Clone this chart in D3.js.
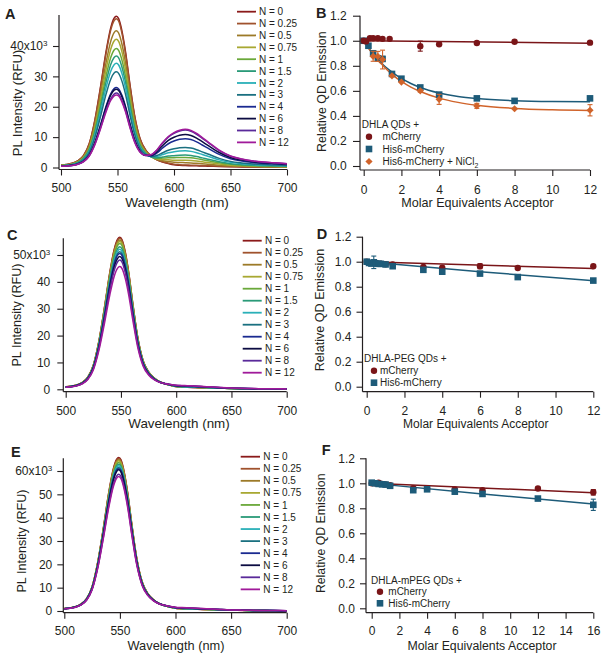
<!DOCTYPE html>
<html><head><meta charset="utf-8">
<script src="https://cdn.jsdelivr.net/npm/d3@7"></script>
<style>
body{margin:0;background:#fff;}
svg{display:block;}
</style></head><body>
<svg id="chart" width="604" height="656"></svg>
<script>
// ---------- DATA ----------
const seriesLabels = ["N = 0","N = 0.25","N = 0.5","N = 0.75","N = 1","N = 1.5","N = 2","N = 3","N = 4","N = 6","N = 8","N = 12"];
const seriesColors = ["#8b1a1a","#a0522d","#9c7a28","#a8a832","#6aa83a","#2a9a78","#2ab0b8","#1a7080","#1a2a90","#0c0c42","#5a2a9a","#a01a9a"];
const wavelengths = [500,505,510,515,520,525,530,535,540,544,547,549,551,554,557,561,565,570,575,580,585,590,595,600,605,610,615,620,625,630,640,650,660,670,680,690,700];
const qdShape = [0.016,0.02,0.028,0.045,0.08,0.158,0.315,0.534,0.772,0.923,0.987,1.0,0.984,0.90,0.77,0.55,0.35,0.19,0.115,0.075,0.05,0.036,0.026,0.018,0.015,0.013,0.012,0.011,0.01,0.009,0.007,0.005,0.004,0.003,0.0025,0.002,0.0015];
const mcShape = [0,0,0,0,0,0,0,0,0,0,0,0,0,0,0,0,0.01,0.04,0.1,0.2,0.38,0.6,0.78,0.9,0.97,1.0,0.97,0.89,0.78,0.67,0.45,0.3,0.22,0.17,0.14,0.12,0.1];
// peak amplitudes (RFU)
const qdAmpA = [49800,49000,45000,42200,39200,36700,34300,31500,26300,25800,24500,23900];
const mcAmpA = [0,200,1000,1850,2800,3600,5050,6200,9150,10550,12000,12300];
const qdAmpC = [56600,56200,55600,55000,54300,53100,52100,51200,50600,49400,48100,45700];
const mcAmpC = [0,30,60,100,130,200,260,330,450,550,650,750];
const qdAmpE = [65800,65400,64800,64400,63600,62900,62200,61500,61000,60500,58600,57600];
const mcAmpE = [0,30,60,90,120,180,240,300,380,460,540,620];
const spectraXTicks = [500,550,600,650,700];
const yTicksA = [0,10000,20000,30000,40000];
const yTicksC = [0,10000,20000,30000,40000,50000];
const yTicksE = [0,10000,20000,30000,40000,50000,60000];

// Panel B (DHLA QDs)
const bMcX = [0,0.125,0.33,0.5,0.75,1,1.375,3,4,6,8,12];
const bMcY = [1.0,0.995,1.02,1.02,1.02,1.015,1.015,0.957,0.972,0.982,0.992,0.985];
const bMcErr = [0.01,0,0,0,0,0,0,0.04,0,0,0,0];
const bHisX = [0,0.25,0.5,0.75,1,1.5,2,3,4,6,8,12];
const bHisY = [1.0,0.96,0.9,0.86,0.855,0.735,0.697,0.627,0.57,0.54,0.52,0.54];
const bHisErr = [0,0,0.01,0.02,0.02,0,0,0,0.01,0,0,0.015];
const bNiX = [0.5,0.75,1,1.5,2,3,4,6,8,12];
const bNiY = [0.876,0.875,0.85,0.72,0.67,0.60,0.532,0.48,0.457,0.445];
const bNiErr = [0.04,0.04,0.075,0,0,0.01,0.04,0.02,0,0.045];
const bFitX = [0,0.25,0.5,0.75,1,1.5,2,2.5,3,4,5,6,8,10,12];
const bFitHis = [1.0,0.944,0.896,0.852,0.813,0.75,0.699,0.659,0.627,0.583,0.555,0.538,0.521,0.514,0.512];
const bFitNi = [1.0,0.942,0.891,0.845,0.805,0.732,0.675,0.63,0.595,0.542,0.508,0.485,0.46,0.449,0.444];
const bFitMcX = [0,12];
const bFitMc = [1.0,0.98];

// Panel D (DHLA-PEG QDs)
const dMcX = [0,0.25,0.5,0.75,1,1.375,3,4,6,8,12];
const dMcY = [1.0,0.99,0.99,0.985,0.98,0.978,0.959,0.953,0.964,0.95,0.964];
const dMcErr = [0,0,0,0,0,0,0,0,0.02,0,0];
const dHisX = [0,0.125,0.25,0.375,0.5,0.625,0.75,1,1.375,3,4,6,8,12];
const dHisY = [1.0,0.99,0.985,0.995,0.985,0.983,0.983,0.978,0.964,0.935,0.92,0.905,0.877,0.849];
const dHisErr = [0,0,0,0.05,0,0,0,0,0,0.015,0.012,0,0,0];
const dFitMcX = [0,12];
const dFitMc = [1.0,0.945];
const dFitHisX = [0,6,12];
const dFitHis = [1.0,0.92,0.848];

// Panel F (DHLA-mPEG QDs)
const fMcX = [0,0.25,0.5,0.75,1,1.33,3,4,6,8,12,16];
const fMcY = [1.0,1.0,1.005,0.995,0.99,0.985,0.96,0.955,0.95,0.945,0.958,0.928];
const fMcErr = [0.01,0,0.01,0,0,0,0,0,0,0.01,0.01,0.022];
const fHisX = [0,0.25,0.5,0.75,1,1.33,3,4,6,8,12,16];
const fHisY = [1.005,1.0,0.995,0.992,0.99,0.98,0.945,0.952,0.933,0.915,0.878,0.828];
const fHisErr = [0,0,0,0,0,0,0.012,0,0,0,0,0.045];
const fFitMcX = [0,16];
const fFitMc = [1.0,0.925];
const fFitHisX = [0,8,16];
const fFitHis = [1.0,0.915,0.835];

const xTicks12 = [0,2,4,6,8,10,12];
const xTicks16 = [0,2,4,6,8,10,12,14,16];
const relTicks = [0,0.2,0.4,0.6,0.8,1.0,1.2];

// ---------- STYLE ----------
const FONT = '"Liberation Sans", Arial, Helvetica, sans-serif';
const INK = "#231f20";
const mcColor = "#7a1518", hisColor = "#1d5b79", niColor = "#d0632a";
const svg = d3.select("#chart");

function panelLabel(t, x, y) {
  svg.append("text").attr("x", x).attr("y", y).attr("font-family", FONT)
    .attr("font-weight", "bold").attr("font-size", 14.5).attr("fill", INK).text(t);
}
function styleAxis(sel, fs) {
  sel.attr("font-family", FONT).attr("font-size", fs).attr("color", INK);
  sel.select(".domain").remove();
  sel.selectAll(".tick line").attr("stroke-width", 1.1);
  sel.selectAll(".tick text").attr("fill", INK);
}
function axisLines(L, xEnd) {
  svg.append("line").attr("x1", L.axisX).attr("x2", L.axisX).attr("y1", L.yTop).attr("y2", L.axisY)
    .attr("stroke", INK).attr("stroke-width", 1.2);
  svg.append("line").attr("x1", L.axisX).attr("x2", xEnd).attr("y1", L.axisY).attr("y2", L.axisY)
    .attr("stroke", INK).attr("stroke-width", 1.2);
}
function titles(L, xt, yt) {
  svg.append("text").attr("x", L.titleX).attr("y", L.titleY).attr("text-anchor", "middle")
    .attr("font-family", FONT).attr("font-size", L.titleSize).attr("fill", INK).text(xt);
  svg.append("text").attr("transform", `translate(${L.yTitleX},${L.yTitleY}) rotate(-90)`)
    .attr("text-anchor", "middle").attr("font-family", FONT).attr("font-size", L.yTitleSize)
    .attr("fill", INK).text(yt);
}

function drawSpectra(L, qdAmp, mcAmp, yTicks) {
  const x = d3.scaleLinear().domain([500, 700]).range([L.x0, L.x1]);
  const y = d3.scaleLinear().domain([0, L.refVal]).range([L.y0, L.yRef]);
  const line = d3.line().x(d => x(d[0])).y(d => y(d[1])).curve(d3.curveMonotoneX);
  const g = svg.append("g");
  qdAmp.forEach((a, i) => {
    const pts = wavelengths.map((w, j) => [w, a * qdShape[j] + mcAmp[i] * mcShape[j]]);
    g.append("path").attr("d", line(pts)).attr("fill", "none")
      .attr("stroke", seriesColors[i]).attr("stroke-width", 1.5);
  });
  axisLines(L, L.x1);
  const top = yTicks[yTicks.length - 1];
  const ya = svg.append("g").attr("transform", `translate(${L.axisX},0)`)
    .call(d3.axisLeft(y).tickValues(yTicks).tickSize(6).tickSizeOuter(0).tickPadding(L.gap - 6)
      .tickFormat(d => d / 1000));
  styleAxis(ya, 12);
  ya.selectAll(".tick text").filter(d => d === top).each(function (d) {
    const t = d3.select(this); t.text(null);
    t.append("tspan").text((d / 1000) + "x10");
    t.append("tspan").attr("dy", "-0.5em").attr("font-size", 8).text("3");
  });
  const xa = svg.append("g").attr("transform", `translate(0,${L.axisY})`)
    .call(d3.axisBottom(x).tickValues(spectraXTicks).tickSize(6).tickSizeOuter(0).tickPadding(L.xPad));
  styleAxis(xa, 12);
  titles(L, "Wavelength (nm)", "PL Intensity (RFU)");
  panelLabel(L.label, L.labelX, L.labelY);
  // legend
  seriesLabels.forEach((s, i) => {
    const cy = L.legY0 + i * L.legDY;
    svg.append("line").attr("x1", L.legX1).attr("x2", L.legX2).attr("y1", cy).attr("y2", cy)
      .attr("stroke", seriesColors[i]).attr("stroke-width", 1.8);
    svg.append("text").attr("x", L.legTX).attr("y", cy + 3.6).attr("font-family", FONT)
      .attr("font-size", 10).attr("fill", INK).text(s);
  });
}

function marker(g, shape, cx, cy, color) {
  if (shape === "circle") {
    g.append("circle").attr("cx", cx).attr("cy", cy).attr("r", 3.2).attr("fill", color);
  } else if (shape === "square") {
    g.append("rect").attr("x", cx - 3.3).attr("y", cy - 3.3).attr("width", 6.6).attr("height", 6.6).attr("fill", color);
  } else {
    g.append("path").attr("d", d3.symbol(d3.symbolSquare, 26)())
      .attr("transform", `translate(${cx},${cy}) rotate(45)`).attr("fill", color);
  }
}

function drawScatter(L, series, fits, header, xTicks) {
  const x = d3.scaleLinear().domain([0, xTicks[xTicks.length - 1]]).range([L.x0, L.x1]);
  const y = d3.scaleLinear().domain([0, 1.2]).range([L.y0, L.y12]);
  const g = svg.append("g");
  const line = d3.line().x(d => x(d[0])).y(d => y(d[1])).curve(d3.curveMonotoneX);
  fits.forEach(f => {
    g.append("path").attr("d", line(f.x.map((v, i) => [v, f.y[i]]))).attr("fill", "none")
      .attr("stroke", f.color).attr("stroke-width", 1.5);
  });
  series.forEach(s => {
    s.x.forEach((v, i) => {
      const cx = x(v), cy = y(s.y[i]);
      if (s.err[i] > 0) {
        const y1 = y(s.y[i] + s.err[i]), y2 = y(s.y[i] - s.err[i]);
        g.append("line").attr("x1", cx).attr("x2", cx).attr("y1", y1).attr("y2", y2).attr("stroke", s.color).attr("stroke-width", 1.1);
        [y1, y2].forEach(yy => g.append("line").attr("x1", cx - 2.5).attr("x2", cx + 2.5).attr("y1", yy).attr("y2", yy).attr("stroke", s.color).attr("stroke-width", 1.1));
      }
      marker(g, s.shape, cx, cy, s.color);
    });
  });
  axisLines(L, L.x1);
  const ya = svg.append("g").attr("transform", `translate(${L.axisX},0)`)
    .call(d3.axisLeft(y).tickValues(relTicks).tickSize(L.tickLen).tickSizeOuter(0)
      .tickPadding(L.gap - L.tickLen).tickFormat(d3.format(".1f")));
  styleAxis(ya, 12);
  const xa = svg.append("g").attr("transform", `translate(0,${L.axisY})`)
    .call(d3.axisBottom(x).tickValues(xTicks).tickSize(6).tickSizeOuter(0).tickPadding(L.xPad));
  styleAxis(xa, 12);
  titles(L, "Molar Equivalents Acceptor", "Relative QD Emission");
  panelLabel(L.label, L.labelX, L.labelY);
  // legend
  svg.append("text").attr("x", L.hx).attr("y", L.hy).attr("font-family", FONT).attr("font-size", 10)
    .attr("fill", INK).text(header);
  series.slice().sort((a, b) => a.order - b.order).forEach((s, i) => {
    const cy = L.rows[i];
    marker(svg, s.shape, L.mx, cy, s.color);
    const t = svg.append("text").attr("x", L.tx).attr("y", cy + 3.6).attr("font-family", FONT)
      .attr("font-size", 10).attr("fill", INK).text(s.name);
    if (s.sub) t.append("tspan").attr("dy", 3).attr("font-size", 7).text(s.sub);
  });
}

// ---------- LAYOUT ----------
const layoutA = {label:"A", labelX:5, labelY:18.5, x0:61, x1:287, axisX:59, axisY:169.5, y0:167.5, yRef:46, refVal:40000,
  yTop:15, gap:11.5, xPad:7.8, titleX:177, titleY:207.3, titleSize:13.7, yTitleX:21.5, yTitleY:103, yTitleSize:13,
  legX1:237, legX2:256, legTX:259, legY0:11.7, legDY:11.88};
const layoutC = {label:"C", labelX:7, labelY:240, x0:65.7, x1:286.7, axisX:63.3, axisY:391.7, y0:389.3, yRef:255, refVal:50000,
  yTop:238.3, gap:13, xPad:8.5, titleX:179, titleY:428.3, titleSize:13.4, yTitleX:21, yTitleY:315, yTitleSize:12.6,
  legX1:242.7, legX2:261.7, legTX:265, legY0:240.7, legDY:12};
const layoutE = {label:"E", labelX:11, labelY:456.5, x0:64.3, x1:286.7, axisX:63.3, axisY:612.7, y0:611, yRef:471, refVal:60000,
  yTop:458.3, gap:11, xPad:7.8, titleX:176, titleY:649.5, titleSize:12.8, yTitleX:26, yTitleY:541, yTitleSize:12.6,
  legX1:240.7, legX2:260, legTX:263.3, legY0:456.7, legDY:12.06};
const layoutB = {label:"B", labelX:316, labelY:18.3, x0:363.7, x1:590, axisX:360, axisY:170, y0:166, y12:15.7, yTop:15.7,
  tickLen:7, gap:13.3, xPad:9, titleX:477.5, titleY:206.8, titleSize:12.6, yTitleX:326, yTitleY:91.7, yTitleSize:12.4,
  hx:361.7, hy:128.3, mx:369, tx:382.5, rows:[136.7,149,161.5]};
const layoutD = {label:"D", labelX:316.7, labelY:239.3, x0:366.7, x1:593.3, axisX:362.5, axisY:391.7, y0:386.7, y12:236.7, yTop:236.7,
  tickLen:6, gap:11, xPad:8.8, titleX:475.8, titleY:428.3, titleSize:12, yTitleX:324.3, yTitleY:310, yTitleSize:12.6,
  hx:364, hy:361.7, mx:374, tx:380, rows:[370.7,382.7]};
const layoutF = {label:"F", labelX:321.7, labelY:455, x0:371.7, x1:593.3, axisX:366, axisY:612.7, y0:608.3, y12:458.3, yTop:458.3,
  tickLen:6, gap:11, xPad:7.6, titleX:482, titleY:649.8, titleSize:12.3, yTitleX:325.3, yTitleY:533.3, yTitleSize:12.3,
  hx:371, hy:583.5, mx:380, tx:388.3, rows:[591.7,603.3]};

// ---------- DRAW ----------
drawSpectra(layoutA, qdAmpA, mcAmpA, yTicksA);
drawSpectra(layoutC, qdAmpC, mcAmpC, yTicksC);
drawSpectra(layoutE, qdAmpE, mcAmpE, yTicksE);

drawScatter(layoutB, [
  {name:"His6-mCherry", x:bHisX, y:bHisY, err:bHisErr, color:hisColor, shape:"square", order:1},
  {name:"His6-mCherry + NiCl", sub:"2", x:bNiX, y:bNiY, err:bNiErr, color:niColor, shape:"diamond", order:2},
  {name:"mCherry", x:bMcX, y:bMcY, err:bMcErr, color:mcColor, shape:"circle", order:0}
], [
  {x:bFitMcX, y:bFitMc, color:mcColor},
  {x:bFitX, y:bFitHis, color:hisColor},
  {x:bFitX, y:bFitNi, color:niColor}
], "DHLA QDs +", xTicks12);

drawScatter(layoutD, [
  {name:"mCherry", x:dMcX, y:dMcY, err:dMcErr, color:mcColor, shape:"circle", order:0},
  {name:"His6-mCherry", x:dHisX, y:dHisY, err:dHisErr, color:hisColor, shape:"square", order:1}
], [
  {x:dFitMcX, y:dFitMc, color:mcColor},
  {x:dFitHisX, y:dFitHis, color:hisColor}
], "DHLA-PEG QDs +", xTicks12);

drawScatter(layoutF, [
  {name:"mCherry", x:fMcX, y:fMcY, err:fMcErr, color:mcColor, shape:"circle", order:0},
  {name:"His6-mCherry", x:fHisX, y:fHisY, err:fHisErr, color:hisColor, shape:"square", order:1}
], [
  {x:fFitMcX, y:fFitMc, color:mcColor},
  {x:fFitHisX, y:fFitHis, color:hisColor}
], "DHLA-mPEG QDs +", xTicks16);
</script>
</body></html>
